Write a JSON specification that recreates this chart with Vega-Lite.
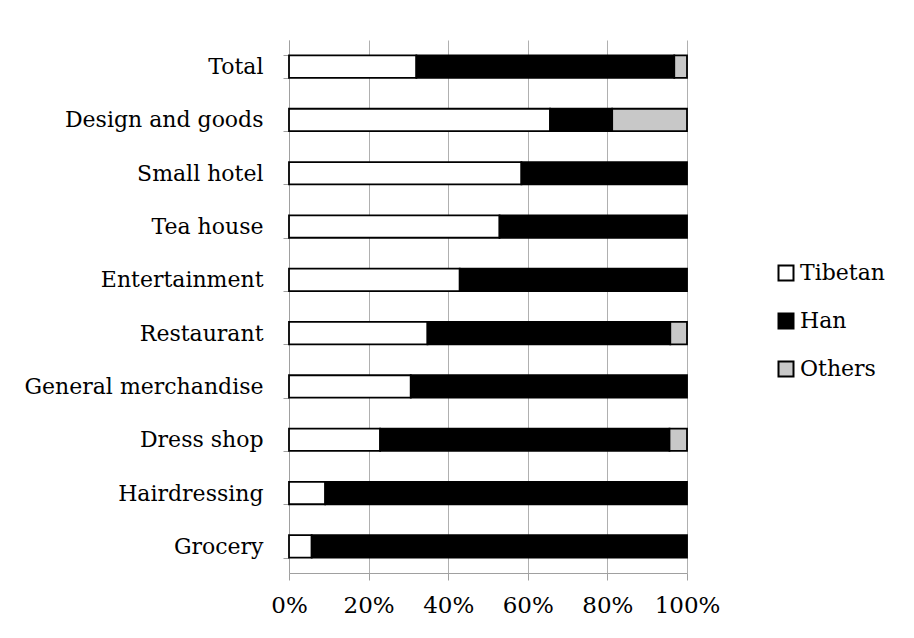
{
  "$schema": "https://vega.github.io/schema/vega-lite/v6.json",
  "width": 398,
  "height": 533,
  "autosize": "none",
  "padding": {"left": 289, "top": 40, "right": 227, "bottom": 65},
  "background": "white",
  "config": {
    "view": {"stroke": null},
    "font": "DejaVu Serif",
    "axis": {"labelFont": "DejaVu Serif", "labelColor": "black", "labelLimit": 0}
  },
  "data": {
    "values": [
      {"cat": "Total", "grp": "Tibetan", "k": 0, "pct": 32.0},
      {"cat": "Total", "grp": "Han", "k": 1, "pct": 64.8},
      {"cat": "Total", "grp": "Others", "k": 2, "pct": 3.2},
      {"cat": "Design and goods", "grp": "Tibetan", "k": 0, "pct": 65.6},
      {"cat": "Design and goods", "grp": "Han", "k": 1, "pct": 15.6},
      {"cat": "Design and goods", "grp": "Others", "k": 2, "pct": 18.8},
      {"cat": "Small hotel", "grp": "Tibetan", "k": 0, "pct": 58.4},
      {"cat": "Small hotel", "grp": "Han", "k": 1, "pct": 41.6},
      {"cat": "Tea house", "grp": "Tibetan", "k": 0, "pct": 52.9},
      {"cat": "Tea house", "grp": "Han", "k": 1, "pct": 47.1},
      {"cat": "Entertainment", "grp": "Tibetan", "k": 0, "pct": 42.9},
      {"cat": "Entertainment", "grp": "Han", "k": 1, "pct": 57.1},
      {"cat": "Restaurant", "grp": "Tibetan", "k": 0, "pct": 34.8},
      {"cat": "Restaurant", "grp": "Han", "k": 1, "pct": 61.0},
      {"cat": "Restaurant", "grp": "Others", "k": 2, "pct": 4.2},
      {"cat": "General merchandise", "grp": "Tibetan", "k": 0, "pct": 30.6},
      {"cat": "General merchandise", "grp": "Han", "k": 1, "pct": 69.4},
      {"cat": "Dress shop", "grp": "Tibetan", "k": 0, "pct": 22.9},
      {"cat": "Dress shop", "grp": "Han", "k": 1, "pct": 72.7},
      {"cat": "Dress shop", "grp": "Others", "k": 2, "pct": 4.4},
      {"cat": "Hairdressing", "grp": "Tibetan", "k": 0, "pct": 9.1},
      {"cat": "Hairdressing", "grp": "Han", "k": 1, "pct": 90.9},
      {"cat": "Grocery", "grp": "Tibetan", "k": 0, "pct": 5.7},
      {"cat": "Grocery", "grp": "Han", "k": 1, "pct": 94.3}
    ]
  },
  "mark": {"type": "bar", "stroke": "black", "strokeWidth": 1.8},
  "encoding": {
    "y": {
      "field": "cat",
      "type": "nominal",
      "sort": ["Total", "Design and goods", "Small hotel", "Tea house", "Entertainment", "Restaurant", "General merchandise", "Dress shop", "Hairdressing", "Grocery"],
      "scale": {"paddingInner": 0.58, "paddingOuter": 0.29},
      "axis": {
        "title": null,
        "labelFontSize": 22,
        "domainColor": "#a0a0a0",
        "tickColor": "#a0a0a0",
        "tickBand": "extent",
        "tickSize": 6,
        "labelPadding": 20
      }
    },
    "x": {
      "field": "pct",
      "type": "quantitative",
      "stack": "zero",
      "scale": {"domain": [0, 100], "nice": false},
      "axis": {
        "title": null,
        "values": [0, 20, 40, 60, 80, 100],
        "labelExpr": "datum.value + '%'",
        "labelFontSize": 23,
        "labelFlush": false,
        "domainColor": "#a0a0a0",
        "tickColor": "#a0a0a0",
        "tickSize": 7,
        "labelPadding": 14,
        "grid": true,
        "gridColor": "#b0b0b0",
        "gridWidth": 1
      }
    },
    "color": {
      "field": "grp",
      "type": "nominal",
      "scale": {"domain": ["Tibetan", "Han", "Others"], "range": ["white", "black", "#c8c8c8"]},
      "legend": {
        "title": null,
        "orient": "none",
        "legendX": 486,
        "legendY": 222,
        "symbolType": "square",
        "symbolSize": 225,
        "symbolStrokeColor": "black",
        "symbolStrokeWidth": 2,
        "labelFont": "DejaVu Serif",
        "labelFontSize": 22,
        "labelColor": "black",
        "labelOffset": 3,
        "rowPadding": 24
      }
    },
    "order": {"field": "k", "type": "quantitative"}
  }
}
